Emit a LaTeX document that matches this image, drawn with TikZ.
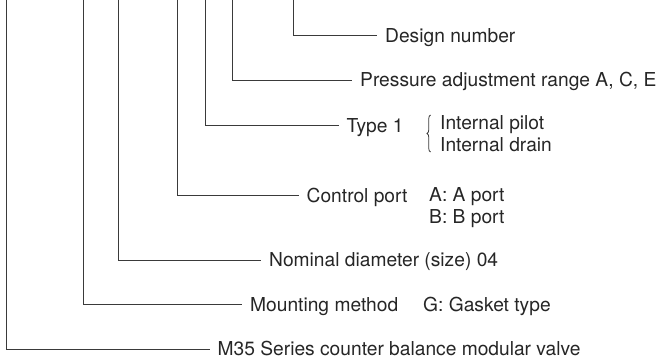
\documentclass[tikz,border=0pt]{standalone}
\usepackage{fontspec}
\setmainfont{TeX Gyre Heros}
\usetikzlibrary{decorations.pathreplacing}
\definecolor{txt}{HTML}{262626}
\definecolor{ln}{HTML}{3A3A3A}
\begin{document}
\begin{tikzpicture}[x=1pt,y=-1pt,
  lbl/.style={anchor=west,inner xsep=8pt,inner ysep=0pt,text height=13pt,text depth=0pt,text=txt,font=\fontsize{19.2}{22}\selectfont},
  sub/.style={anchor=base west,inner sep=0pt,text=txt,font=\fontsize{19.2}{22}\selectfont},
  lead/.style={draw=ln,line width=0.9pt}]
\useasboundingbox (0,0) rectangle (657,364);
% tops of the leader lines
\coordinate (t1) at (6,-2);
\coordinate (t2) at (83,-2);
\coordinate (t3) at (118.5,-2);
\coordinate (t4) at (177,-2);
\coordinate (t5) at (205.5,-2);
\coordinate (t6) at (232,-2);
\coordinate (t7) at (293.5,-2);
% labels
\node[lbl] (l7) at (377,35.5) {Design number};
\node[lbl] (l6) at (352,80) {Pressure adjustment range A, C, E};
\node[lbl] (l5) at (338.5,125.7) {Type 1};
\node[lbl] (l4) at (298.5,195.7) {Control port};
\node[lbl] (l3) at (261,260.2) {Nominal diameter (size) 04};
\node[lbl] (l2) at (242,304.5) {Mounting method};
\node[lbl] (l1) at (209.5,349.3) {M35 Series counter balance modular valve};
% secondary texts
\node[sub] (ip) at (440,129) {Internal pilot};
\node[sub] (id) at (440,151.5) {Internal drain};
\node[sub] (ap) at (429,201.5) {A: A port};
\node[sub] (bp) at (429,223.5) {B: B port};
\node[sub] (gt) at (423,311.5) {G: Gasket type};
% brace
\coordinate (bb) at (430.5,152);
\coordinate (bt) at (430.5,115);
\draw[draw=ln,line width=0.8pt,decorate,decoration={brace,amplitude=3.5pt}] (bb) -- (bt);
% leaders
\draw[lead] (t1) |- (l1.west);
\draw[lead] (t2) |- (l2.west);
\draw[lead] (t3) |- (l3.west);
\draw[lead] (t4) |- (l4.west);
\draw[lead] (t5) |- (l5.west);
\draw[lead] (t6) |- (l6.west);
\draw[lead] (t7) |- (l7.west);
\end{tikzpicture}
\end{document}
